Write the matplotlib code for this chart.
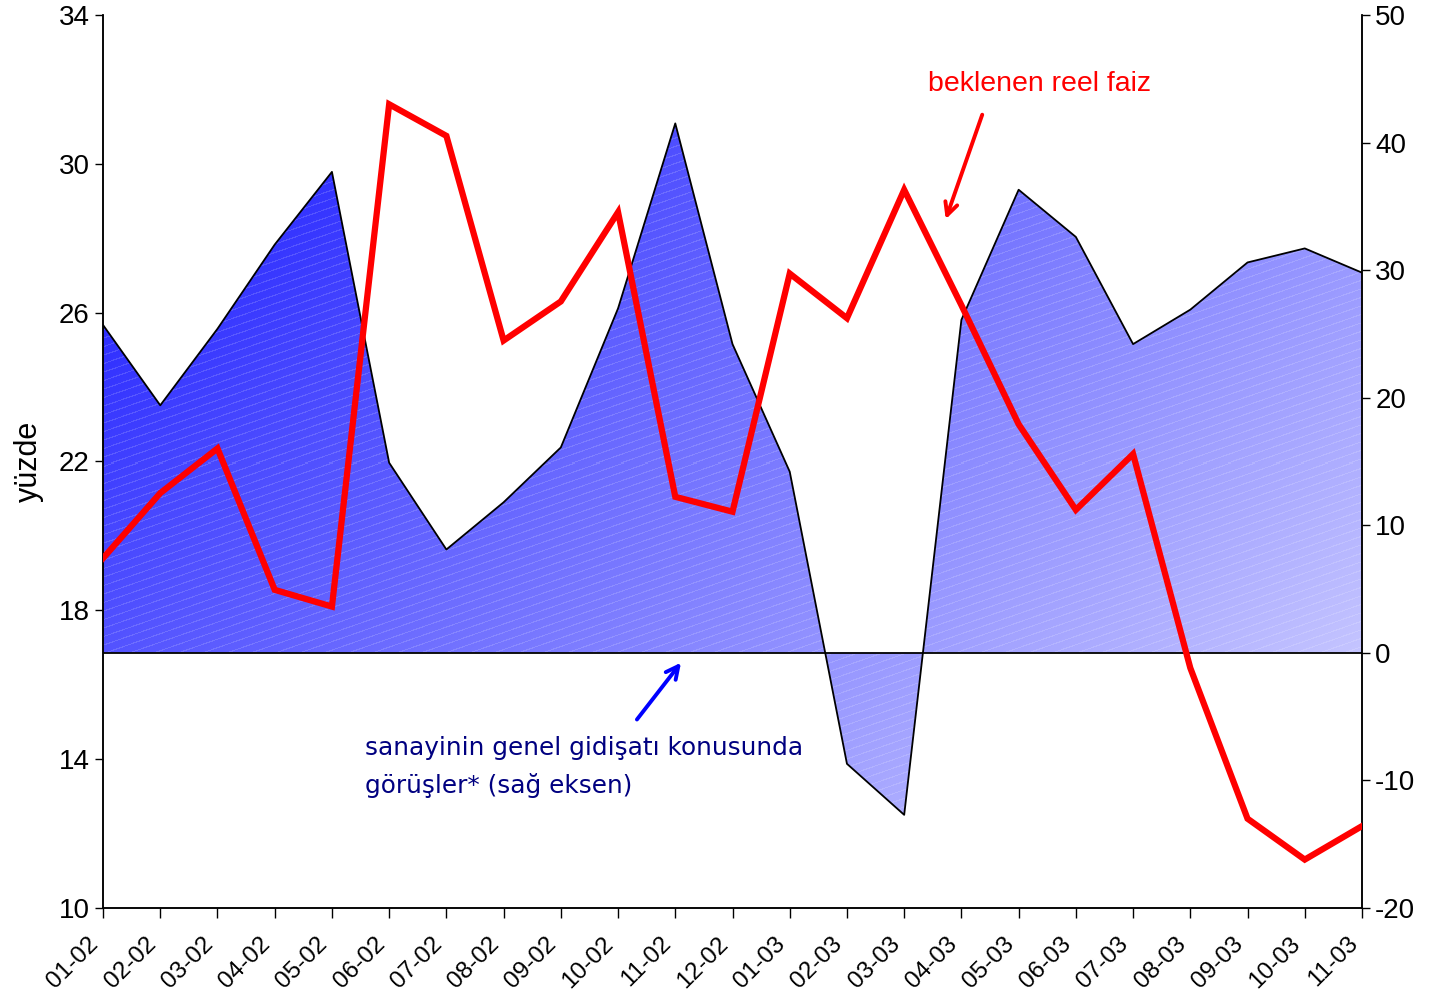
import numpy as np
import matplotlib
matplotlib.use("Agg")
import matplotlib.pyplot as plt
from matplotlib.patches import Polygon

plt.rcParams["font.family"] = ["Liberation Sans", "DejaVu Sans"]
plt.rcParams["axes.unicode_minus"] = False

# monthly labels (month-year)
months = ["01-02", "02-02", "03-02", "04-02", "05-02", "06-02", "07-02", "08-02",
          "09-02", "10-02", "11-02", "12-02", "01-03", "02-03", "03-03", "04-03",
          "05-03", "06-03", "07-03", "08-03", "09-03", "10-03", "11-03"]

# expected real interest rate, % (left axis)
reel_faiz = [19.4, 21.15, 22.35, 18.55, 18.1, 31.6, 30.75, 25.25, 26.3, 28.7, 21.05,
             20.65, 27.05, 25.85, 29.3, 26.2, 23.0, 20.7, 22.2, 16.45, 12.4, 11.3, 12.2]

# views on general course of industry, balance (right axis)
sanayi_gorus = [25.7, 19.4, 25.4, 32.0, 37.7, 14.9, 8.1, 11.8, 16.1, 27.0, 41.5,
                24.2, 14.2, -8.7, -12.7, 26.1, 36.3, 32.6, 24.2, 26.9, 30.6, 31.7, 29.8]

x = np.arange(len(months))

fig = plt.figure(figsize=(14.29, 9.97), dpi=100)
ax = fig.add_axes([0.0721, 0.0893, 0.8810, 0.8957])
ax2 = ax.twinx()

# area series sits on the right axis, behind the red line
ax.set_zorder(2)
ax2.set_zorder(1)
ax.patch.set_visible(False)

ax.set_xlim(0, len(months) - 1)
ax.set_ylim(10, 34)
ax2.set_ylim(-20, 50)

# diagonal gradient fill with faint stripes, clipped to the area shape
vals = np.array(sanayi_gorus)
ny, nx = 893, 1259
C, R = np.meshgrid(np.arange(nx), np.arange(ny))
xf = C / (nx - 1)
yv = 50 - R / (ny - 1) * 70
ytop, ybot = vals.max(), vals.min()
yf = np.clip((ytop - yv) / (ytop - ybot), 0, 1)
t = np.clip(0.6 * xf + 0.4 * yf, 0, 1)
c0 = np.array([0.10, 0.10, 1.0])
c1 = np.array([0.84, 0.84, 1.0])
img = c0[None, None, :] + t[..., None] * (c1 - c0)[None, None, :]
stripe = ((R + 0.35 * C) % 8.5) < 1.2
img[stripe] = img[stripe] * 0.85 + 0.15
img = np.clip(img, 0, 1)

verts = [(x[0], 0)] + list(zip(x, vals)) + [(x[-1], 0)]
shape = Polygon(verts, closed=True, facecolor="none", edgecolor="none")
ax2.add_patch(shape)
im = ax2.imshow(img, extent=[x[0], x[-1], -20, 50], aspect="auto",
                origin="upper", interpolation="nearest", zorder=1)
im.set_clip_path(shape)
ax2.plot(x, vals, color="black", lw=1.3, zorder=3)
ax2.axhline(0, color="black", lw=1.3, zorder=3)

# expected real interest rate line
ax.plot(x, reel_faiz, color="#FF0000", lw=4.5, solid_joinstyle="miter", zorder=5)

# axes styling
ax.set_yticks(np.arange(10, 35, 4))
ax2.set_yticks(np.arange(-20, 51, 10))
ax.set_xticks(x)
ax.set_xticklabels(months, rotation=45, ha="right", va="bottom",
                   rotation_mode="anchor", fontsize=17.5)
ax.tick_params(axis="y", labelsize=20, direction="out", length=6, width=1)
ax.tick_params(axis="x", direction="out", length=7, width=1, pad=22)
ax2.tick_params(axis="y", labelsize=20, direction="out", length=6, width=1)
for a in (ax, ax2):
    a.spines["top"].set_visible(False)
    for s in ("left", "right", "bottom"):
        a.spines[s].set_linewidth(1.1)
ax.set_ylabel("yüzde", fontsize=22, labelpad=11)

# annotations
ax.text(16.37, 32.15, "beklenen reel faiz", color="#FF0000", fontsize=20.5,
        ha="center", va="center")
ax.annotate("", xy=(14.71, 28.44), xytext=(15.38, 31.39),
            arrowprops=dict(arrowstyle="->,head_length=0.9,head_width=0.45",
                            color="#FF0000", lw=2.8))
ax2.text(4.58, -6.5, "sanayinin genel gidişatı konusunda\ngörüşler* (sağ eksen)",
         color="#000080", fontsize=17.8, family=["DejaVu Sans"],
         ha="left", va="top", linespacing=1.68)
ax2.annotate("", xy=(10.13, -0.6), xytext=(9.30, -5.4),
             arrowprops=dict(arrowstyle="->,head_length=0.9,head_width=0.45",
                             color="#0000FF", lw=2.8))

fig.savefig("out.png", dpi=100)
